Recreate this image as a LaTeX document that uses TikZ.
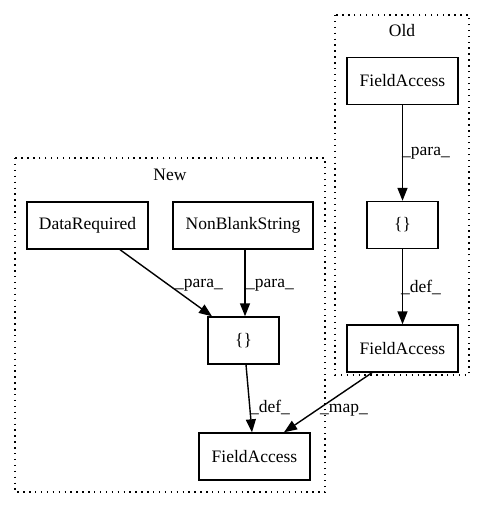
\documentclass[tikz,border=0pt]{standalone}
\usepackage{fontspec}
\setmainfont{Liberation Serif}
\usetikzlibrary{arrows.meta}
\begin{document}
\begin{tikzpicture}[x=1pt,y=-1pt,
  every node/.style={font=\fontsize{17.5}{20}\selectfont},
  box/.style={draw,line width=1.4pt,minimum height=47pt,inner sep=0pt},
  clus/.style={draw,line width=1.4pt,dash pattern=on 1.4pt off 4.5pt},
  lbl/.style={inner sep=1pt},
  edge/.style={line width=1.4pt,-{Triangle[length=13pt,width=10pt]}}]
\useasboundingbox (0,0) rectangle (485,508);
% clusters
\draw[clus] (335,15) rectangle (469,375);
\node (oldlbl) at (402,31) {Old};
\draw[clus] (15,158) rectangle (325,492);
\node (newlbl) at (170,175) {New};
% Old nodes
\node[box,minimum width=111pt] (ofa1) at (402.5,81) {FieldAccess};
\node[box,minimum width=71pt] (obr) at (402.5,225) {\{\}};
\node[box,minimum width=111pt] (ofa2) at (402.5,348.5) {FieldAccess};
% New nodes
\node[box,minimum width=121pt] (dr) at (87.5,225.5) {DataRequired};
\node[box,minimum width=140pt] (nbs) at (243,225.5) {NonBlankString};
\node[box,minimum width=71pt] (nbr) at (243.5,340.5) {\{\}};
\node[box,minimum width=111pt] (nfa) at (254.5,456.5) {FieldAccess};
% edges
\draw[edge] (ofa1) -- (obr);
\node[lbl] (l1) at (426,153) {\_para\_};
\draw[edge] (obr) -- (ofa2);
\node[lbl] (l2) at (421,287) {\_def\_};
\draw[edge] (dr.south -| 120,0) -- (nbr.north west -| 212,0);
\node[lbl] (l3) at (199,285) {\_para\_};
\draw[edge] (nbs.south -| 245,0) -- (nbr.north -| 245,0);
\node[lbl] (l4) at (270,285) {\_para\_};
\draw[edge] (nbr.south -| 246,0) -- (nfa.north -| 252,0);
\node[lbl] (l5) at (270,407) {\_def\_};
\draw[edge] (ofa2.south -| 372,0) -- (nfa.north -| 284,0);
\node[lbl] (l6) at (344,410) {\_map\_};
\end{tikzpicture}
\end{document}
